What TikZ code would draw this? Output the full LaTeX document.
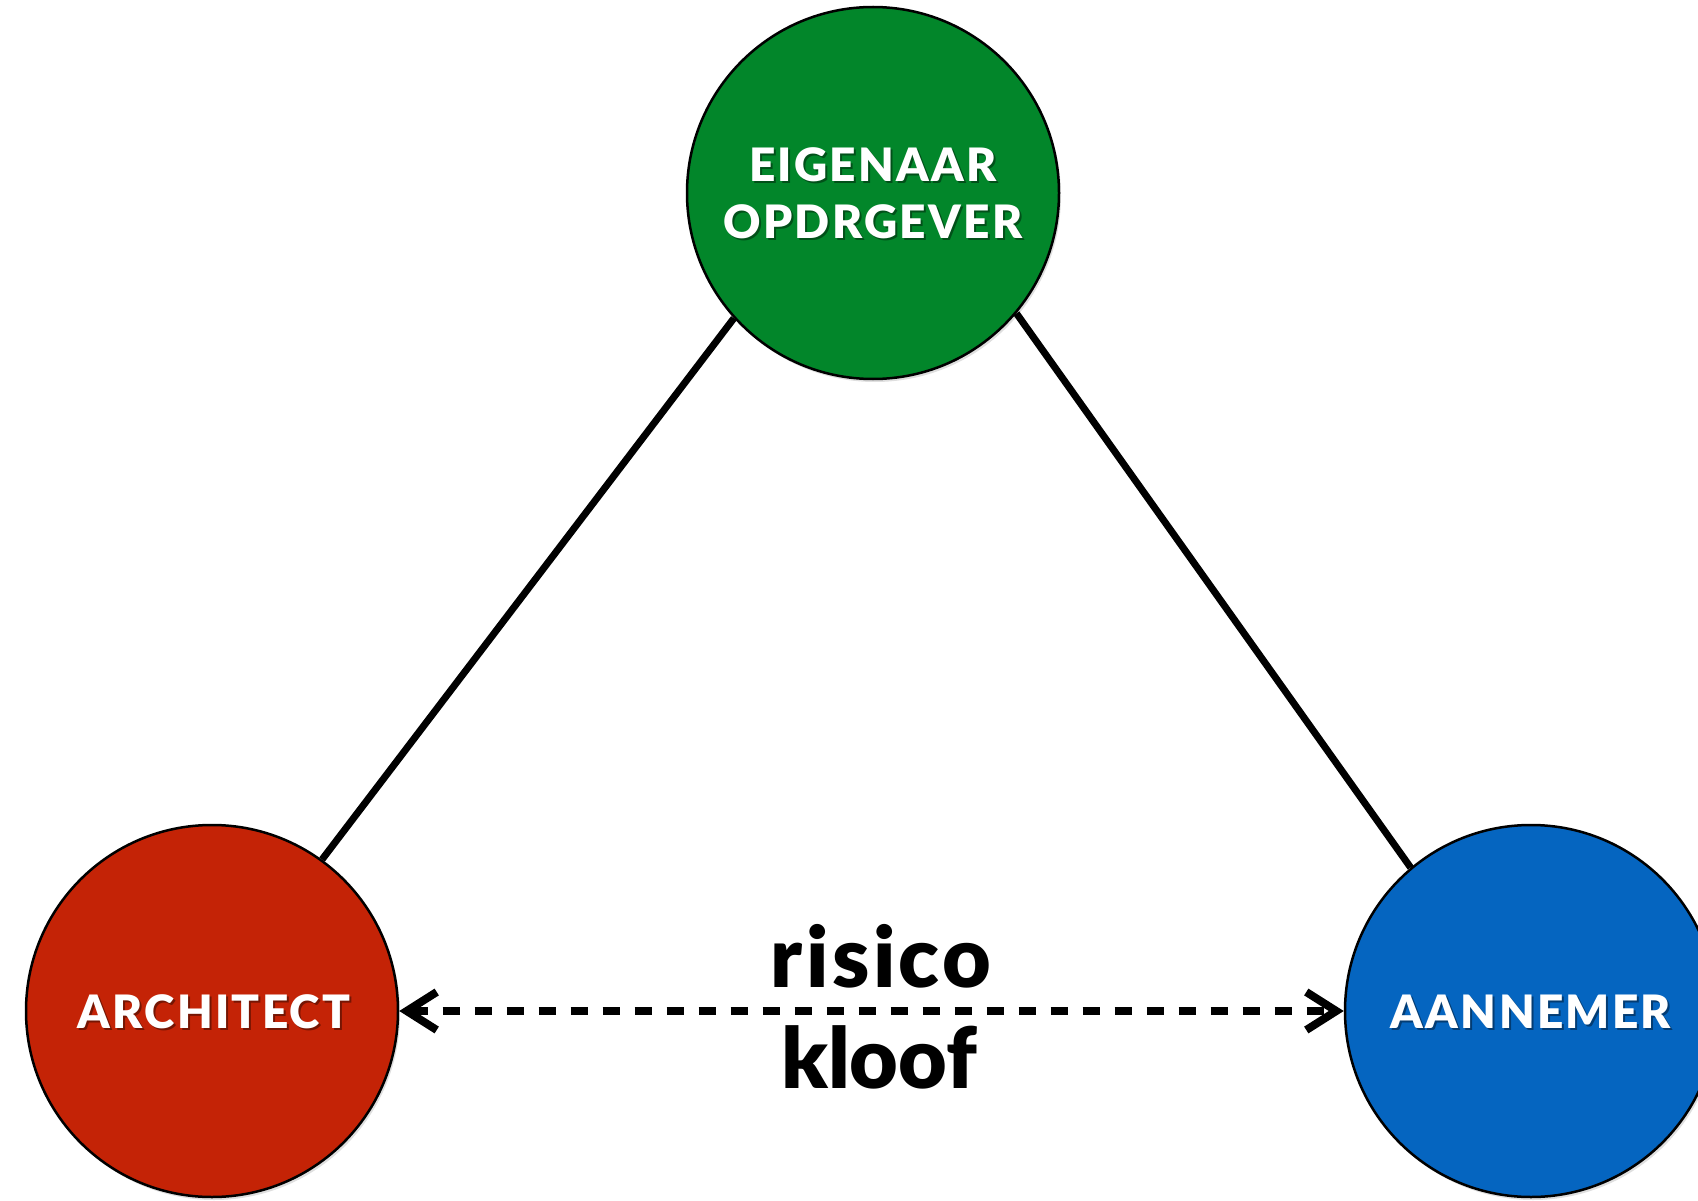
\documentclass[tikz,border=0pt]{standalone}
\usepackage{fontspec}
\setmainfont{Lato}
\newfontfamily\lblfont[LetterSpace=5]{Lato Black}
\newfontfamily\gapfont{Lato Black}
\newfontfamily\gapfontwide[LetterSpace=4]{Lato Black}
\usetikzlibrary{arrows.meta,shadows}
\definecolor{cgreen}{HTML}{02862A}
\definecolor{cred}{HTML}{C42306}
\definecolor{cblue}{HTML}{0565C0}
\tikzset{
  party/.style={circle, draw=black, line width=2.5pt, minimum size=372pt, inner sep=0pt,
    drop shadow={opacity=0.25, shadow xshift=2pt, shadow yshift=-3pt}},
  lbl/.style={text=white, align=center, font=\lblfont\fontsize{46}{57}\selectfont},
  lblshadow/.style={text=black, opacity=0.4, align=center, font=\lblfont\fontsize{46}{57}\selectfont},
  link/.style={line width=7pt, black},
  gap/.style={line width=8.5pt, black, dash pattern=on 17pt off 15pt,
    {Straight Barb[length=30pt, width=38pt, line width=8pt]}-{Straight Barb[length=30pt, width=38pt, line width=8pt]}},
  gaplabel/.style={text=black, anchor=base, font=\gapfont\fontsize{84}{90}\selectfont},
}
\begin{document}
\begin{tikzpicture}[x=1pt, y=-1pt]
\useasboundingbox (0,0) rectangle (1698,1201);
\clip (0,0) rectangle (1698,1201);
\node[party, fill=cgreen] (g) at (873,193) {};
\node[party, fill=cred] (r) at (212,1011) {};
\node[party, fill=cblue] (b) at (1531,1011) {};
\draw[link] (g.222.8) -- (r.54);
\draw[link] (g.320.9) -- (b.130.6);
\node[lblshadow] (gts) at (875,195) {EIGENAAR\\OPDRGEVER};
\node[lbl] (gt) at (873,193) {EIGENAAR\\OPDRGEVER};
\node[lblshadow] (rts) at (216,1014) {ARCHITECT};
\node[lbl] (rt) at (214,1012) {ARCHITECT};
\node[lblshadow] (bts) at (1533,1014) {AANNEMER};
\node[lbl] (bt) at (1531,1012) {AANNEMER};
\draw[gap] (r) -- (b);
\node[gaplabel, font=\gapfontwide\fontsize{84}{90}\selectfont] (risk) at (881,987) {risico};
\node[gaplabel] (kloof) at (879,1088) {kloof};
\end{tikzpicture}
\end{document}
